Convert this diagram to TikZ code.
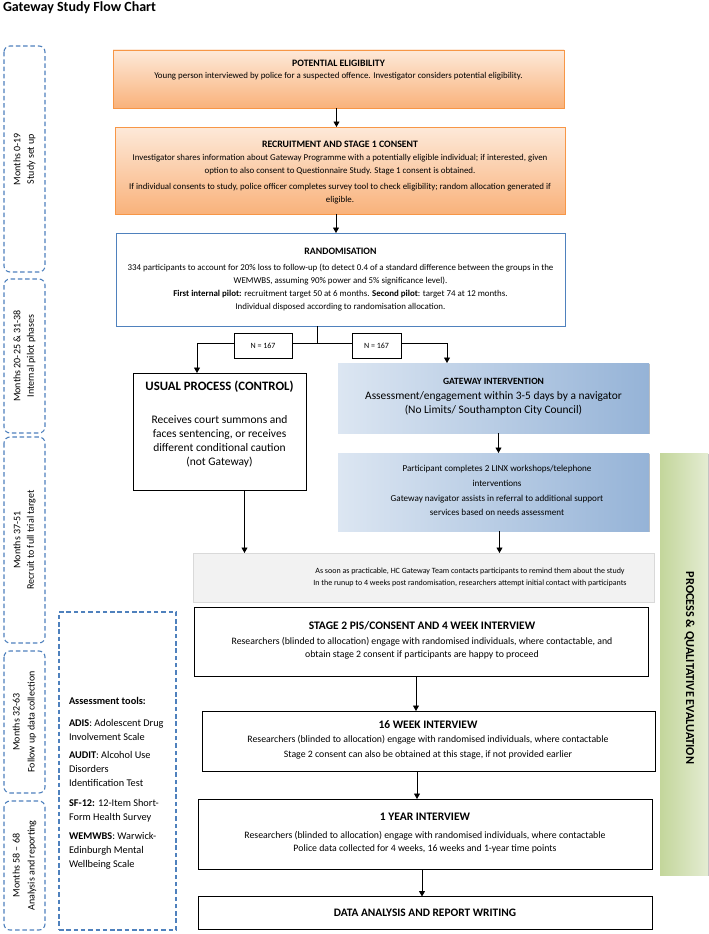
\documentclass[tikz,border=0pt]{standalone}
\usepackage{fontspec}
\setmainfont{Carlito}
\usetikzlibrary{arrows.meta,shadows}
\definecolor{dashblue}{HTML}{4F81BD}
\definecolor{orangeborder}{HTML}{F79646}
\definecolor{orangetop}{HTML}{FDE9D9}
\definecolor{orangebot}{HTML}{F9B27B}
\definecolor{bluelight}{HTML}{DCE6F2}
\definecolor{bluedark}{HTML}{95B3D7}
\definecolor{greenlight}{HTML}{E4ECD2}
\definecolor{greendark}{HTML}{C3D69B}
\definecolor{grayfill}{HTML}{F2F2F2}
\definecolor{grayline}{HTML}{D9D9D9}
\newcommand{\fsz}[2]{\fontsize{#1}{#2}\selectfont}
\begin{document}
\begin{tikzpicture}[x=1pt,y=-1pt,
  every node/.style={inner sep=0pt, outer sep=0pt},
  arr/.style={-{Triangle[length=5.5pt,width=6pt]}, line width=0.9pt},
  ln/.style={line width=0.9pt},
  softshadow/.style={drop shadow={shadow xshift=1.2pt,shadow yshift=-1.2pt,opacity=0.25,fill=black}},
  obox/.style={draw=orangeborder, line width=0.9pt, top color=orangetop, bottom color=orangebot, softshadow},
  bbox/.style={draw=none, left color=bluelight, right color=bluedark, softshadow},
  gbox/.style={draw=none, left color=greendark, right color=greenlight, softshadow},
  kbox/.style={draw=black, line width=0.9pt, fill=white},
  rbox/.style={draw=dashblue, line width=1pt, fill=white},
  graybox/.style={draw=grayline, line width=0.6pt, fill=grayfill},
  dbox/.style={draw=dashblue, line width=1.1pt, dash pattern=on 4.5pt off 2.8pt, rounded corners=6pt},
  dsq/.style={draw=dashblue, line width=1.1pt, dash pattern=on 4.5pt off 2.8pt},
  phase/.style={dbox, rotate=90, minimum height=41pt, align=center, font=\fsz{10}{13.5}},
  txt/.style={align=center, anchor=north},
]
\useasboundingbox (0,0) rectangle (709,934);
\fill[white] (0,0) rectangle (709,934);

% title
\node[anchor=base west, font=\bfseries\fsz{14}{16}] (title) at (3,11.5) {Gateway Study Flow Chart};

% left dashed phase boxes
\node[phase, minimum width=226pt] (b1) at (24.5,159) {Months 0-19\\Study set up};
\node[phase, minimum width=154pt] (b2) at (24.5,356) {Months 20-25 \& 31-38\\Internal pilot phases};
\node[phase, minimum width=206pt] (b3) at (24.5,540) {Months 37-51\\Recruit to full trial target};
\node[phase, minimum width=142pt, font=\fsz{10}{15}] (b4) at (24.5,722) {Months 32-63\\Follow up data collection};
\node[phase, minimum width=129pt, font=\fsz{10}{15}] (b5) at (24.5,865.5) {Months 58 – 68\\Analysis and reporting};

% assessment tools
\node[dsq, minimum width=117pt, minimum height=318pt] (tools) at (117.5,771) {};
\node[anchor=north west, align=left, font=\fsz{10.3}{14}] (toolstxt) at (69,697) {%
\textbf{Assessment tools:}\\[8pt]
\textbf{ADIS}: Adolescent Drug\\
Involvement Scale\\[4pt]
\textbf{AUDIT}: Alcohol Use\\
Disorders\\
Identification Test\\[6pt]
\textbf{SF-12:} 12-Item Short-\\
Form Health Survey\\[5pt]
\textbf{WEMWBS}: Warwick-\\
Edinburgh Mental\\
Wellbeing Scale};

% potential eligibility
\node[obox, minimum width=451pt, minimum height=58pt] (pe) at (338.5,79) {};
\node[txt, font=\fsz{8.9}{12}] (petxt) at (338.5,59.8) {{\bfseries\fsz{9.8}{12}POTENTIAL ELIGIBILITY}\\
Young person interviewed by police for a suspected offence. Investigator considers potential eligibility.};

% recruitment
\node[obox, minimum width=450pt, minimum height=87pt] (rc) at (340,170.5) {};
\node[txt, font=\fsz{8.9}{13}] (rctxt) at (340,140.8) {{\bfseries\fsz{9.8}{13}RECRUITMENT AND STAGE 1 CONSENT}\\
Investigator shares information about Gateway Programme with a potentially eligible individual; if interested, given\\
option to also consent to Questionnaire Study. Stage 1 consent is obtained.\\[3pt]
If individual consents to study, police officer completes survey tool to check eligibility; random allocation generated if\\
eligible.};

% randomisation
\node[rbox, minimum width=449pt, minimum height=93pt] (rand) at (340.5,279.5) {};
\node[txt, font=\fsz{8.9}{13}] (randtxt) at (340.5,247.8) {{\bfseries\fsz{9.8}{13}RANDOMISATION}\\[3pt]
334 participants to account for 20\% loss to follow-up (to detect 0.4 of a standard difference between the groups in the\\
WEMWBS, assuming 90\% power and 5\% significance level).\\
\textbf{First internal pilot:} recruitment target 50 at 6 months. \textbf{Second pilot}: target 74 at 12 months.\\
Individual disposed according to randomisation allocation.};

% split
\coordinate (j) at (317,343);
\coordinate (jl) at (197,343);
\coordinate (jr) at (447,343);
\draw[ln] (j |- rand.south) -- (j);
\draw[ln] (jl) -- (jr);
\node[kbox, line width=0.8pt, minimum width=58pt, minimum height=25pt, font=\fsz{8}{10}] (n1) at (263,345.5) {N = 167};
\node[kbox, line width=0.8pt, minimum width=49pt, minimum height=25pt, font=\fsz{8}{10}] (n2) at (376.5,345.5) {N = 167};

% usual process
\node[kbox, minimum width=173pt, minimum height=117pt] (usual) at (219.5,431.5) {};
\node[txt, font=\fsz{11.5}{14.3}] (usualtxt) at (219.5,380.9) {{\bfseries\fsz{12.8}{14.3}USUAL PROCESS (CONTROL)}\\[18.3pt]
Receives court summons and\\
faces sentencing, or receives\\
different conditional caution\\
(not Gateway)};

% gateway intervention
\node[bbox, minimum width=311pt, minimum height=70pt] (gw) at (493.5,398) {};
\node[txt, font=\fsz{11.4}{14}] (gwtxt) at (493.5,377.9) {{\bfseries\fsz{9.55}{14}GATEWAY INTERVENTION}\\[1.4pt]
Assessment/engagement within 3-5 days by a navigator\\
(No Limits/ Southampton City Council)};

% LINX
\node[bbox, minimum width=311pt, minimum height=78pt] (linx) at (493.5,492) {};
\node[txt, font=\fsz{9.1}{14.6}] (linxtxt) at (497,465.5) {Participant completes 2 LINX workshops/telephone\\
interventions\\
Gateway navigator assists in referral to additional support\\
services based on needs assessment};

% reminder (gray)
\node[graybox, minimum width=461pt, minimum height=49pt] (gray) at (423.5,577.5) {};
\node[txt, font=\fsz{8}{12}] (graytxt) at (470,567.5) {As soon as practicable, HC Gateway Team contacts participants to remind them about the study\\
In the runup to 4 weeks post randomisation, researchers attempt initial contact with participants};

% process & qualitative evaluation
\node[gbox, rotate=-90, minimum width=422pt, minimum height=48pt] (pq) at (684,664) {};
\node[rotate=-90, font=\bfseries\fsz{12.2}{14}] (pqtxt) at (689.5,668) {PROCESS \& QUALITATIVE EVALUATION};

% stage 2
\node[kbox, minimum width=454pt, minimum height=69pt] (st2) at (421,641.5) {};
\node[txt, font=\fsz{9.8}{12.2}] (st2txt) at (422,621.3) {{\bfseries\fsz{11.5}{12.2}STAGE 2 PIS/CONSENT AND 4 WEEK INTERVIEW}\\[3.4pt]
Researchers (blinded to allocation) engage with randomised individuals, where contactable, and\\
obtain stage 2 consent if participants are happy to proceed};

% 16 week
\node[kbox, minimum width=453pt, minimum height=60pt] (w16) at (428.5,741) {};
\node[txt, font=\fsz{9.8}{14.8}] (w16txt) at (428,720.3) {{\bfseries\fsz{11.5}{14.8}16 WEEK INTERVIEW}\\
Researchers (blinded to allocation) engage with randomised individuals, where contactable\\
Stage 2 consent can also be obtained at this stage, if not provided earlier};

% 1 year
\node[kbox, minimum width=454pt, minimum height=70pt] (y1) at (425,834) {};
\node[txt, font=\fsz{9.8}{13}] (y1txt) at (425,813.3) {{\bfseries\fsz{11.5}{13}1 YEAR INTERVIEW}\\[4.6pt]
Researchers (blinded to allocation) engage with randomised individuals, where contactable\\
Police data collected for 4 weeks, 16 weeks and 1-year time points};

% data analysis
\node[kbox, minimum width=454pt, minimum height=33pt, font=\bfseries\fsz{11.4}{13}] (data) at (425,913) {DATA ANALYSIS AND REPORT WRITING};

% connectors
\draw[arr] ([xshift=-2pt]pe.south) -- ([xshift=-2pt]pe.south |- rc.north);
\draw[arr] ([xshift=-4pt]rc.south) -- ([xshift=-4pt]rc.south |- rand.north);
\draw[arr] (jl) -- (jl |- usual.north);
\draw[arr] (jr) -- (jr |- gw.north);
\draw[arr] ([xshift=5pt]gw.south) -- ([xshift=5pt]gw.south |- linx.north);
\draw[arr] ([xshift=6pt]linx.south) -- ([xshift=6pt]linx.south |- gray.north);
\draw[arr] ([xshift=25pt]usual.south) -- ([xshift=25pt]usual.south |- gray.north);
\draw[arr] ([xshift=-5pt]st2.south) -- ([xshift=-5pt]st2.south |- w16.north);
\draw[arr] ([xshift=-11.5pt]w16.south) -- ([xshift=-11.5pt]w16.south |- y1.north);
\draw[arr] ([xshift=-3pt]y1.south) -- ([xshift=-3pt]y1.south |- data.north);
\end{tikzpicture}
\end{document}
